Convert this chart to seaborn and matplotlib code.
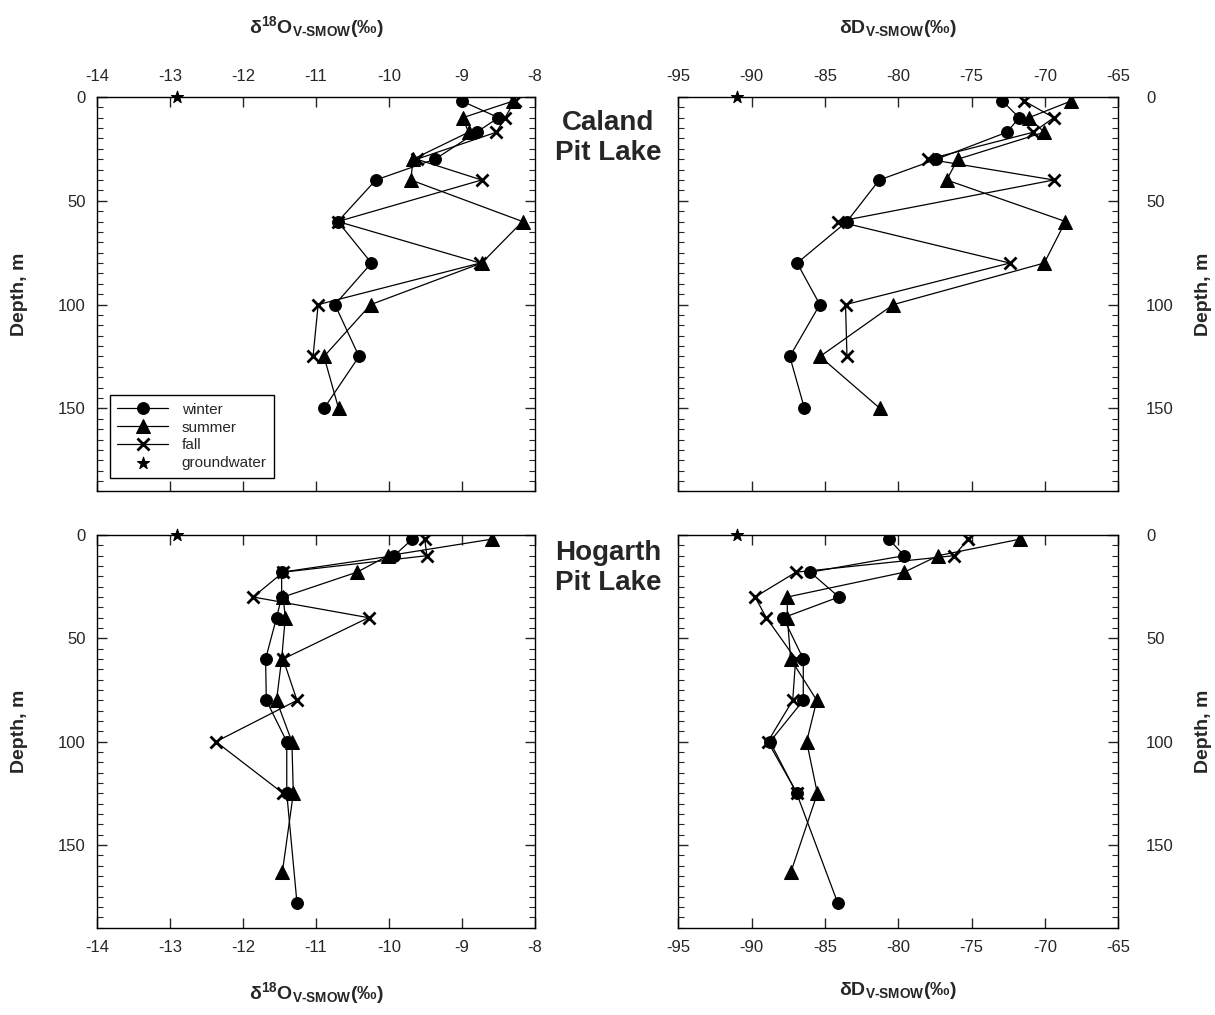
import numpy as np
import pandas as pd
import seaborn as sns
import matplotlib
matplotlib.use('Agg')
from matplotlib import pyplot as plt
from matplotlib.ticker import MultipleLocator

# depths (m)
caland_depth = [2, 10, 17, 30, 40, 60, 80, 100, 125, 150]
caland_fall_depth = [2, 10, 17, 30, 40, 60, 80, 100, 125]
hogarth_winter_depth = [2, 10, 18, 30, 40, 60, 80, 100, 125, 178]
hogarth_summer_depth = [2, 10, 18, 30, 40, 60, 80, 100, 125, 163]
hogarth_fall_depth = [2, 10, 18, 30, 40, 60, 80, 100, 125]

# Caland pit lake
caland_o18_winter = [-9.0, -8.5, -8.8, -9.37, -10.18, -10.70, -10.24, -10.74, -10.41, -10.89]
caland_o18_summer = [-8.30, -8.99, -8.91, -9.67, -9.70, -8.17, -8.73, -10.25, -10.89, -10.69]
caland_o18_fall = [-8.28, -8.41, -8.53, -9.62, -8.73, -10.70, -8.75, -10.97, -11.04]
caland_dD_winter = [-72.9, -71.75, -72.6, -77.4, -81.3, -83.5, -86.9, -85.35, -87.4, -86.4]
caland_dD_summer = [-68.23, -71.1, -70.05, -75.95, -76.7, -68.6, -70.05, -80.34, -85.34, -81.25]
caland_dD_fall = [-71.4, -69.4, -70.8, -77.95, -69.4, -84.1, -72.4, -83.6, -83.5]

# Hogarth pit lake
hogarth_o18_winter = [-9.68, -9.93, -11.47, -11.47, -11.54, -11.69, -11.68, -11.40, -11.40, -11.26]
hogarth_o18_summer = [-8.59, -10.01, -10.44, -11.45, -11.42, -11.47, -11.54, -11.33, -11.31, -11.46]
hogarth_o18_fall = [-9.51, -9.48, -11.45, -11.86, -10.28, -11.45, -11.26, -12.37, -11.45]
hogarth_dD_winter = [-80.64, -79.6, -86.0, -84.05, -87.84, -86.48, -86.48, -88.75, -86.93, -84.13]
hogarth_dD_summer = [-71.7, -77.28, -79.6, -87.57, -87.57, -87.34, -85.56, -86.25, -85.52, -87.32]
hogarth_dD_fall = [-75.23, -76.2, -86.98, -89.77, -89.0, -87.0, -87.2, -88.9, -86.9]

# groundwater
gw_o18 = [-12.9]
gw_dD = [-91.0]
gw_depth = [0]

sns.set_style('ticks')
plt.rcParams['font.family'] = ['Liberation Sans', 'DejaVu Sans']
plt.rcParams['mathtext.fontset'] = 'custom'
plt.rcParams['mathtext.rm'] = 'Liberation Sans'
plt.rcParams['mathtext.bf'] = 'Liberation Sans:bold'
plt.rcParams['axes.unicode_minus'] = False
plt.rcParams['xtick.direction'] = 'in'
plt.rcParams['ytick.direction'] = 'in'

o18_label = r'$\mathbf{\delta^{18}O_{V' + '\u2010' + r'SMOW}}$' + '(‰)'
dD_label = r'$\mathbf{\delta D_{V' + '\u2010' + r'SMOW}}$' + '(‰)'

fig = plt.figure(figsize=(12.15, 10.15), dpi=100)
ax_tl = fig.add_axes([0.0798, 0.5158, 0.3605, 0.3887])
ax_tr = fig.add_axes([0.5583, 0.5158, 0.3621, 0.3887])
ax_bl = fig.add_axes([0.0798, 0.0860, 0.3605, 0.3869])
ax_br = fig.add_axes([0.5583, 0.0860, 0.3621, 0.3869])

line_kw = dict(color='black', lw=0.9, sort=False, estimator=None, markeredgecolor='black')


def draw(ax, w, wd, s, sd, f, fd, gw, legend=False):
    sns.lineplot(x=w, y=wd, ax=ax, marker='o', markersize=8.5, label='winter', **line_kw)
    sns.lineplot(x=s, y=sd, ax=ax, marker='^', markersize=9.5, label='summer', **line_kw)
    sns.lineplot(x=f, y=fd, ax=ax, marker='x', markersize=8.5, mew=2, label='fall', **line_kw)
    sns.scatterplot(x=gw, y=gw_depth, ax=ax, marker='*', s=85, color='black',
                    edgecolor='black', label='groundwater', zorder=5, clip_on=False)
    if legend:
        leg = ax.legend(loc='lower left', bbox_to_anchor=(0.012, 0.015), fontsize=11,
                        handlelength=3.3, fancybox=False, framealpha=1,
                        borderpad=0.5, labelspacing=0.25, handletextpad=0.9)
        leg.get_frame().set_edgecolor('black')
        leg.get_frame().set_linewidth(1.0)
    else:
        ax.get_legend().remove()


draw(ax_tl, caland_o18_winter, caland_depth, caland_o18_summer, caland_depth,
     caland_o18_fall, caland_fall_depth, gw_o18, legend=True)
draw(ax_tr, caland_dD_winter, caland_depth, caland_dD_summer, caland_depth,
     caland_dD_fall, caland_fall_depth, gw_dD)
draw(ax_bl, hogarth_o18_winter, hogarth_winter_depth, hogarth_o18_summer, hogarth_summer_depth,
     hogarth_o18_fall, hogarth_fall_depth, gw_o18)
draw(ax_br, hogarth_dD_winter, hogarth_winter_depth, hogarth_dD_summer, hogarth_summer_depth,
     hogarth_dD_fall, hogarth_fall_depth, gw_dD)

for ax in [ax_tl, ax_tr, ax_bl, ax_br]:
    ax.set_ylim(190, 0)
    ax.yaxis.set_major_locator(MultipleLocator(50))
    ax.yaxis.set_minor_locator(MultipleLocator(5))
    ax.tick_params(axis='both', which='major', length=7, width=1, labelsize=12,
                   top=True, bottom=True, left=True, right=True)
    ax.tick_params(axis='y', which='minor', length=4, width=0.8, left=True, right=True)
    for sp in ax.spines.values():
        sp.set_linewidth(1.0)
        sp.set_color('black')
    ax.set_xlabel('')
    ax.set_ylabel('')

for ax in [ax_tl, ax_bl]:
    ax.set_xlim(-14, -8)
    ax.xaxis.set_major_locator(MultipleLocator(1))
    ax.tick_params(axis='y', labelleft=True, labelright=False, pad=8)
    ax.set_ylabel('Depth, m', fontsize=14, fontweight='bold', labelpad=22)

for ax in [ax_tr, ax_br]:
    ax.set_xlim(-95, -65)
    ax.xaxis.set_major_locator(MultipleLocator(5))
    ax.yaxis.set_label_position('right')
    ax.tick_params(axis='y', labelleft=False, labelright=True, pad=20)
    ax.set_ylabel('Depth, m', fontsize=14, fontweight='bold', labelpad=15, rotation=90)

for ax, lab in [(ax_tl, o18_label), (ax_tr, dD_label)]:
    ax.xaxis.set_label_position('top')
    ax.tick_params(axis='x', labeltop=True, labelbottom=False, pad=9)
    ax.set_xlabel(lab, fontsize=14, fontweight='bold', labelpad=26)

for ax, lab in [(ax_bl, o18_label), (ax_br, dD_label)]:
    ax.tick_params(axis='x', labeltop=False, labelbottom=True, pad=9)
    ax.set_xlabel(lab, fontsize=14, fontweight='bold', labelpad=18)

fig.text(0.5005, 0.8645, 'Caland\nPit Lake', ha='center', va='center', fontsize=20,
         fontweight='bold', linespacing=1.2)
fig.text(0.5005, 0.4405, 'Hogarth\nPit Lake', ha='center', va='center', fontsize=20,
         fontweight='bold', linespacing=1.2)

fig.savefig('out.png', dpi=100)
